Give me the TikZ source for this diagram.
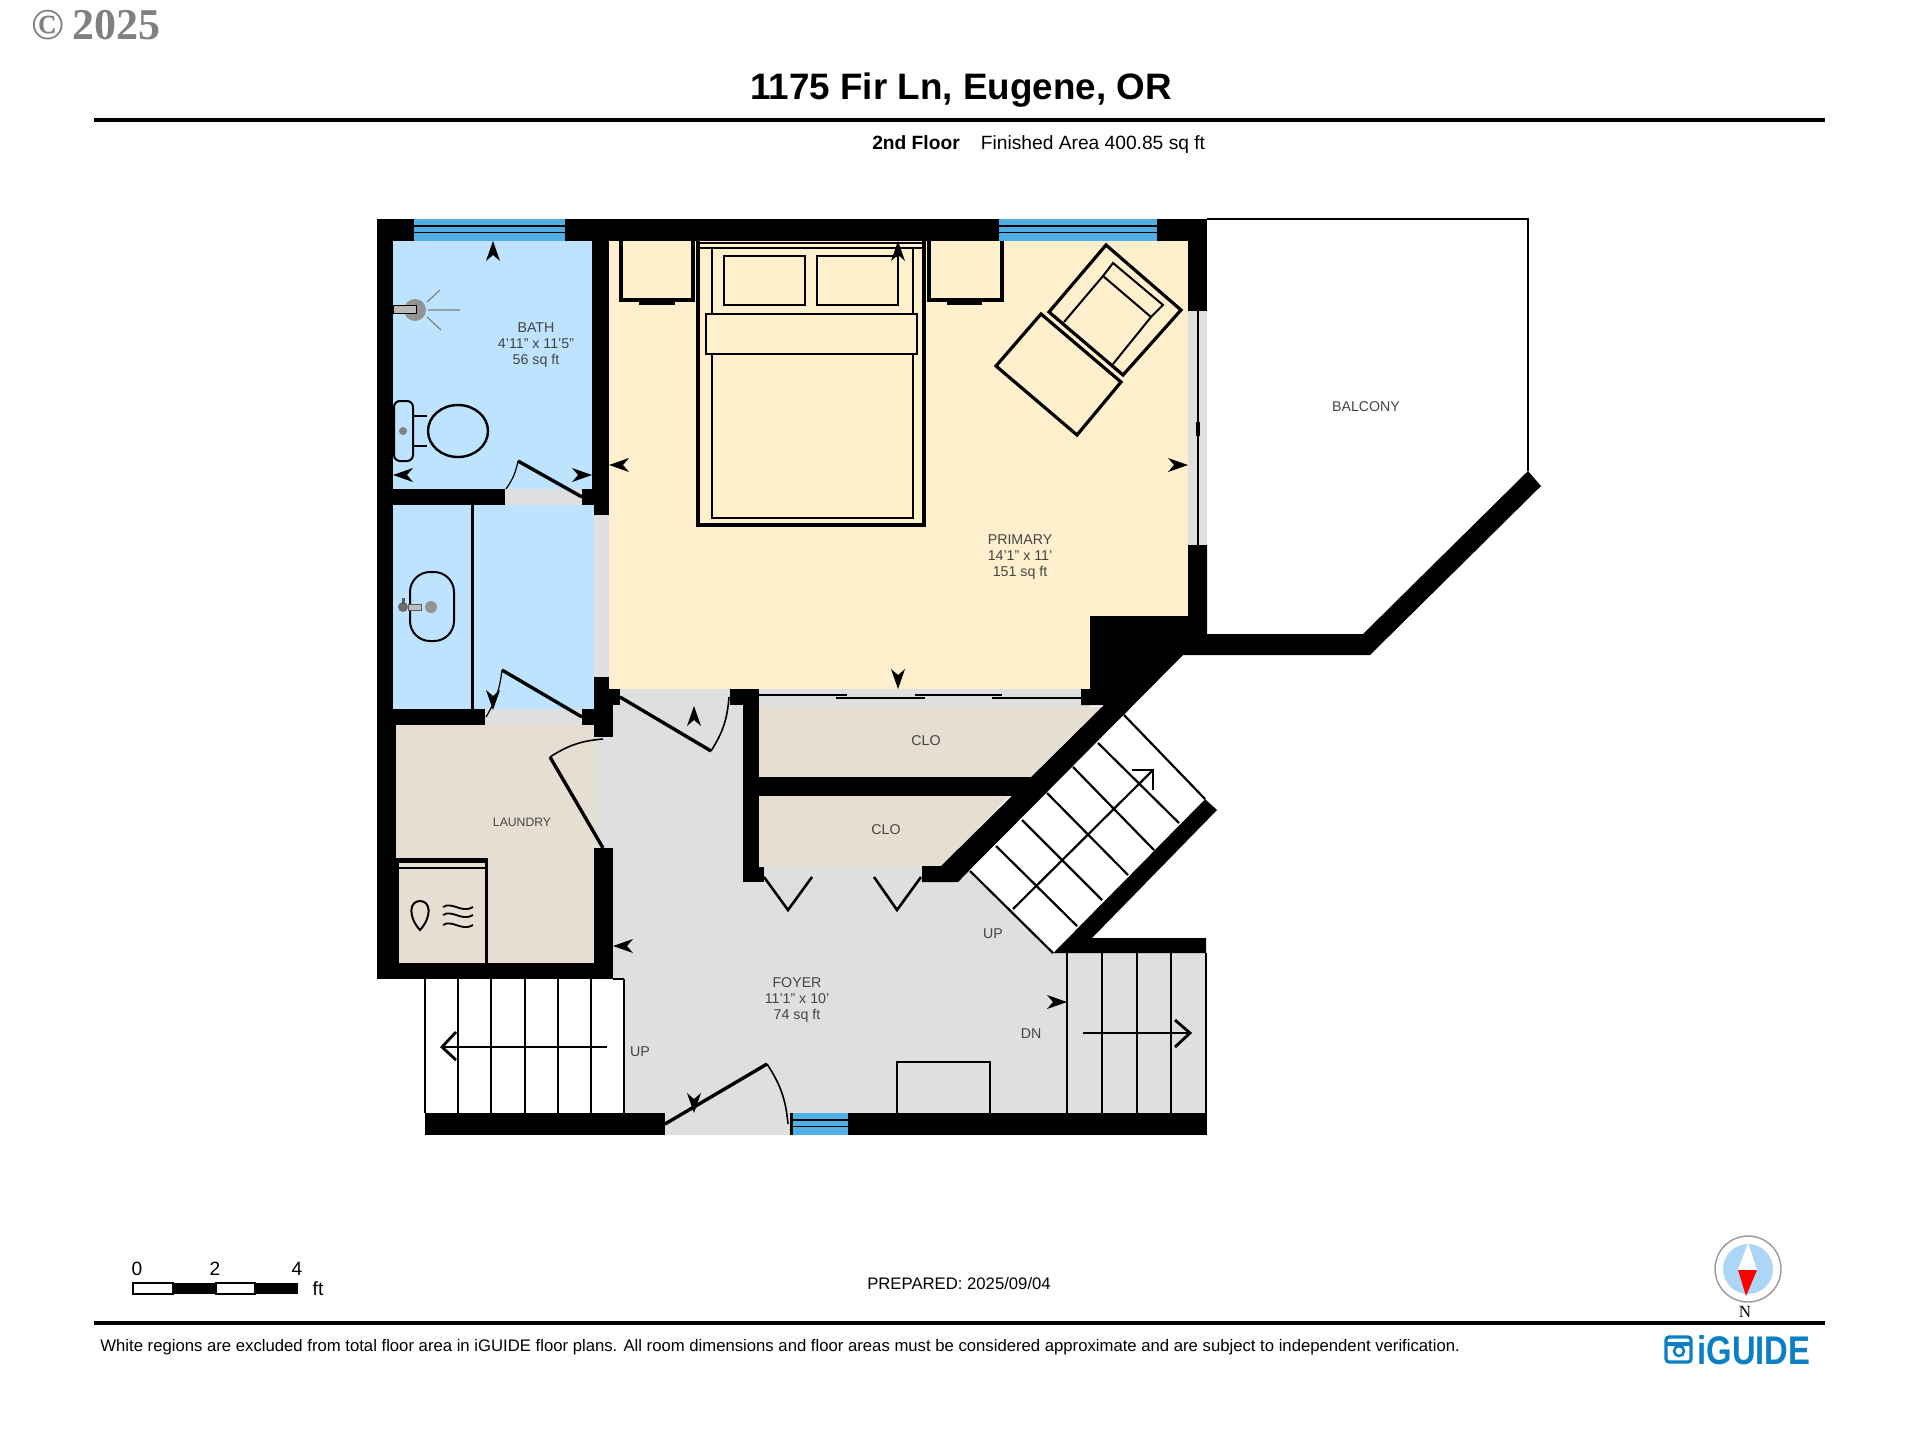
\documentclass[tikz,border=0pt]{standalone}
\usepackage{fontspec}
\setmainfont{Liberation Sans}
\newfontfamily\serifcopy{Liberation Serif}
\usetikzlibrary{calc,positioning}
\definecolor{bathblue}{HTML}{BDE3FF}
\definecolor{primaryyellow}{HTML}{FFF0CD}
\definecolor{closetbeige}{HTML}{E6DFD1}
\definecolor{foyergray}{HTML}{DFDFDF}
\definecolor{glassblue}{HTML}{4FAEE3}
\definecolor{labelgray}{HTML}{444444}
\definecolor{logoblue}{HTML}{0A7FC4}
\definecolor{compassblue}{HTML}{ACD6F5}
\tikzset{
  roomlabel/.style={font=\fontsize{7.1}{7.8}\selectfont,text=labelgray,align=center,inner sep=0pt},
  pagetext/.style={font=\fontsize{8.35}{10}\selectfont,inner sep=0pt},
  furn/.style={draw=black,line width=1.6pt,line join=miter},
  thinfurn/.style={draw=black,line width=1pt},
  tread/.style={draw=black,line width=1.1pt},
  doorleaf/.style={draw=black,line width=1.7pt},
  swing/.style={draw=black,line width=0.6pt},
}
\newcommand{\dart}[3]{\fill[black,shift={(#1,#2)},rotate=#3] (0,0) -- (-20,7) -- (-14,0) -- (-20,-7) -- cycle;}
\newcommand{\glass}[4]{
  \fill[glassblue] (#1,#2) rectangle (#3,#4);
  \draw[black,line width=0.6pt] (#1,{#2+0.32*(#4-#2)}) -- (#3,{#2+0.32*(#4-#2)});
  \draw[black,line width=0.6pt] (#1,{#2+0.62*(#4-#2)}) -- (#3,{#2+0.62*(#4-#2)});
}
\begin{document}
\begin{tikzpicture}[x=0.5pt,y=-0.5pt]
\useasboundingbox (0,0) rectangle (1920,1440);

% rooms
\fill[bathblue] (393,241) rectangle (594,709);
\fill[primaryyellow] (609,240) -- (1188,240) -- (1188,616) -- (1090,616) -- (1090,689) -- (609,689) -- cycle;
\fill[closetbeige] (396,725) rectangle (595,963);
\fill[foyergray] (595,689) -- (743,689) -- (743,882) -- (958,882) -- (969,871) -- (1053,953) -- (1207,953) -- (1207,1135) -- (665,1135) -- (665,1113) -- (624,1113) -- (624,979) -- (595,979) -- cycle;
\fill[closetbeige] (759,707) -- (1102,707) -- (1030,777) -- (759,777) -- cycle;
\fill[closetbeige] (759,796) -- (1010,796) -- (941,866) -- (759,866) -- cycle;
\fill[foyergray] (759,689) rectangle (1090,707);
\fill[foyergray] (759,866) rectangle (922,882);
\fill[foyergray] (505,489) rectangle (582,505);
\fill[foyergray] (485,709) rectangle (582,725);
\fill[foyergray] (594,515) rectangle (609,677);
\fill[foyergray] (1188,311) rectangle (1207,545);

% bed and nightstands
\draw[furn,line width=1.8pt] (698,240) -- (698,525) -- (924,525) -- (924,240);
\draw[thinfurn] (698,243) -- (924,243) (698,248) -- (924,248);
\draw[thinfurn,line width=1.2pt] (712,248) -- (712,518) -- (913,518) -- (913,248);
\draw[thinfurn,line width=1.2pt,fill=primaryyellow] (706,314) rectangle (917,354);
\draw[furn,line width=1.2pt] (724,256) rectangle (805,305);
\draw[furn,line width=1.2pt] (817,256) rectangle (898,305);
\draw[furn] (621,241) -- (621,300) -- (693,300) -- (693,241);
\fill[black] (639,300) rectangle (675,305);
\draw[furn] (929,241) -- (929,300) -- (1002,300) -- (1002,241);
\fill[black] (947,300) rectangle (982,305);

% chair and ottoman
\draw[furn] (1106,245) -- (1181,310) -- (1123,375) -- (1049,312) -- cycle;
\draw[thinfurn] (1103,276) -- (1113,263) -- (1163,305) -- (1151,317);
\draw[thinfurn] (1064,322) -- (1103,276) -- (1151,317) -- (1113,364);
\draw[furn] (1041,314) -- (1121,382) -- (1077,435) -- (996,366) -- cycle;

% shower
\draw[gray,line width=0.6pt] (427,302) -- (440,290) (428,310) -- (460,310) (427,317) -- (441,330);
\fill[gray!85] (415,310) circle (11);
\draw[black,line width=0.5pt,fill=gray!55] (393,305) rectangle (416,313);

% toilet
\draw[thinfurn,fill=bathblue,rounded corners=3pt] (394,401) rectangle (413,461);
\fill[gray] (403,431) circle (4);
\draw[thinfurn] (413,416) -- (427,416) (413,446) -- (427,446);
\draw[furn,line width=1.2pt] (458,431) ellipse (30 and 26);

% vanity and sink
\fill[black] (471,505) rectangle (474,709);
\draw[thinfurn,rounded corners=10pt] (410,572) rectangle (454,641);
\fill[gray!85] (431,607) circle (6);
\fill[gray!85!black] (403,607) circle (5);
\fill[gray!70!black] (402,598) rectangle (405,604);
\draw[gray!70!black,line width=0.5pt,fill=gray!50] (408,604) rectangle (421,610);

% washer and dryer
\fill[black] (396,858) rectangle (487,863);
\draw[black,line width=1pt] (398,868) -- (486,868);
\fill[black] (396,858) rectangle (399,963);
\fill[black] (485,858) rectangle (488,963);
\draw[black,line width=1pt] (420,930) .. controls (408,917) and (409,901) .. (420,901) .. controls (431,901) and (432,917) .. (420,930) -- cycle;
\foreach \wavey in {907,915,925}{
  \draw[black,line width=0.9pt] (443,\wavey) .. controls (452,\wavey-6) and (462,\wavey+7) .. (473,\wavey);
}

% walls
\fill[black] (377,219) rectangle (414,241);
\fill[black] (565,219) rectangle (999,241);
\fill[black] (1157,219) rectangle (1207,241);
\fill[black] (377,219) rectangle (393,725);
\fill[black] (377,725) rectangle (396,979);
\fill[black] (592,241) rectangle (609,489);
\fill[black] (582,489) rectangle (609,505);
\fill[black] (594,505) rectangle (609,515);
\fill[black] (393,489) rectangle (505,505);
\fill[black] (393,709) rectangle (485,725);
\fill[black] (582,709) rectangle (594,725);
\fill[black] (594,677) rectangle (609,689);
\fill[black] (594,689) rectangle (620,705);
\fill[black] (594,705) rectangle (613,737);
\fill[black] (594,848) rectangle (613,979);
\fill[black] (377,963) rectangle (613,979);
\fill[black] (743,689) rectangle (759,882);
\fill[black] (730,689) rectangle (743,705);
\fill[black] (759,867) rectangle (764,882);
\fill[black] (759,777) rectangle (1035,796);
\fill[black] (1188,219) rectangle (1207,311);
\fill[black] (1090,616) -- (1188,616) -- (1188,545) -- (1207,545) -- (1207,634) -- (1363,634) -- (1528,471) -- (1541,486) -- (1370,655) -- (1183,655) -- (958,882) -- (922,882) -- (922,866) -- (941,866) -- (1104,705) -- (1081,705) -- (1081,689) -- (1090,689) -- cycle;
\fill[black] (1205,799) -- (1217,810) -- (1092,938) -- (1206,938) -- (1206,953) -- (1053,953) -- cycle;
\fill[black] (425,1113) rectangle (665,1135);
\fill[black] (848,1113) rectangle (1207,1135);

% balcony outline and slider
\draw[black,line width=1.1pt] (1207,219) -- (1528,219) -- (1528,471);
\draw[black,line width=1pt] (1198,311) -- (1198,545);
\fill[black] (1196,422) rectangle (1200,436);

% windows
\glass{414}{219}{565}{241}
\glass{999}{219}{1157}{241}
\glass{793}{1113}{848}{1135}
\fill[black] (790,1113) rectangle (793,1135);

% closet sliders
\draw[black,line width=0.7pt] (759,695) -- (847,695) (836,698) -- (925,698) (915,695) -- (1002,695) (992,698) -- (1081,698);

% doors
\draw[doorleaf] (582,497) -- (518,461);
\draw[swing] (518,461) to[bend left=12] (506,489);
\draw[doorleaf] (582,717) -- (502,670);
\draw[swing] (502,670) to[bend left=12] (486,717);
\draw[doorleaf] (620,697) -- (711,751);
\draw[swing,line width=0.8pt] (711,751) to[bend right=14] (729,697);
\draw[doorleaf] (603,848) -- (550,757);
\draw[swing,line width=0.8pt] (550,757) to[bend left=14] (603,739);
\draw[doorleaf] (665,1124) -- (767,1064);
\draw[swing,line width=0.8pt] (767,1064) to[bend left=14] (788,1124);
\draw[doorleaf,line width=1.3pt] (764,877) -- (788,910) -- (812,877);
\draw[doorleaf,line width=1.3pt] (874,877) -- (897,910) -- (921,877);

% lower left stairs
\draw[tread] (425,979) -- (425,1113);
\draw[tread] (613,979) -- (624,979);
\foreach \stepx in {458,491,525,558,591,624}{
  \draw[tread] (\stepx,979) -- (\stepx,1113);
}
\draw[black,line width=0.9pt] (607,1047) -- (442,1047);
\draw[black,line width=1.4pt] (456,1032) -- (442,1047) -- (456,1060);

% lower right stairs
\foreach \stepx in {1067,1102,1137,1171,1206}{
  \draw[tread] (\stepx,953) -- (\stepx,1113);
}
\draw[black,line width=0.9pt] (1083,1033) -- (1190,1033);
\draw[black,line width=1.4pt] (1175,1020) -- (1190,1033) -- (1175,1047);

% diagonal stairs
\fill[white] (1124,715) -- (1205,799) -- (1053,953) -- (969,871) -- cycle;
\draw[tread] (1124,715) -- (1205,799);
\draw[tread] (1098,743) -- (1179,823);
\draw[tread] (1073,767) -- (1154,850);
\draw[tread] (1047,793) -- (1128,875);
\draw[tread] (1022,820) -- (1102,900);
\draw[tread] (996,846) -- (1077,926);
\draw[tread] (970,871) -- (1053,953);
\draw[black,line width=1.1pt] (1013,909) -- (1153,770);
\draw[black,line width=1.4pt] (1132,770) -- (1153,770) -- (1153,790);

% chest
\draw[thinfurn,line width=1.1pt] (897,1113) -- (897,1062) -- (990,1062) -- (990,1113);

% view arrows
\dart{493}{241}{90}
\dart{393}{475}{180}
\dart{592}{475}{0}
\dart{609}{465}{180}
\dart{898}{241}{90}
\dart{1188}{465}{0}
\dart{898}{689}{270}
\dart{694}{706}{90}
\dart{493}{710}{270}
\dart{613}{946}{180}
\dart{1067}{1002}{0}
\dart{694}{1113}{270}

% labels
\node[roomlabel] (bathlabel) at (536,345) {BATH\\4'11" x 11'5"\\56 sq ft};
\node[roomlabel] (primarylabel) at (1020,557) {PRIMARY\\14'1" x 11'\\151 sq ft};
\node[roomlabel] (balconylabel) at (1366,407) {BALCONY};
\node[roomlabel] (cloupper) at (926,741) {CLO};
\node[roomlabel] (clolower) at (886,830) {CLO};
\node[roomlabel,font=\fontsize{6.1}{7}\selectfont] (laundrylabel) at (522,822) {LAUNDRY};
\node[roomlabel] (foyerlabel) at (797,1000) {FOYER\\11'1" x 10'\\74 sq ft};
\node[roomlabel] (upleft) at (640,1052) {UP};
\node[roomlabel] (upright) at (993,934) {UP};
\node[roomlabel] (dnlabel) at (1031,1034) {DN};

% header
\node[inner sep=0pt,gray,font=\serifcopy\bfseries\fontsize{22}{24}\selectfont] (copynote) at (96,25) {©\,2025};
\node[inner sep=0pt,font=\bfseries\fontsize{18.4}{20}\selectfont] (titlelabel) at (961,90) {1175 Fir Ln, Eugene, OR};
\draw[black,line width=2pt] (94,120) -- (1825,120);
\node[pagetext,font=\bfseries\fontsize{9.6}{11}\selectfont] (floorlabel) at (916,143) {2nd Floor};
\node[pagetext,font=\fontsize{9.6}{11}\selectfont] (arealabel) at (1093,144.5) {Finished Area 400.85 sq ft};

% scale bar
\draw[black,line width=0.6pt,fill=white] (133,1283) rectangle (173,1294);
\fill[black] (173,1283) rectangle (216,1294);
\draw[black,line width=0.6pt,fill=white] (216,1283) rectangle (255,1294);
\fill[black] (255,1283) rectangle (298,1294);
\node[pagetext,font=\fontsize{9.6}{11}\selectfont] (scalezero) at (137,1269) {0};
\node[pagetext,font=\fontsize{9.6}{11}\selectfont] (scaletwo) at (215,1269) {2};
\node[pagetext,font=\fontsize{9.6}{11}\selectfont] (scalefour) at (297,1269) {4};
\node[pagetext,font=\fontsize{9.6}{11}\selectfont] (scaleunit) at (318,1289) {ft};

% footer
\node[pagetext] (preparedlabel) at (959,1284) {PREPARED: 2025/09/04};
\draw[black,line width=2pt] (94,1323) -- (1825,1323);
\node[pagetext,anchor=west] (disclaimer) at (100,1347) {White regions are excluded from total floor area in iGUIDE floor plans. All room dimensions and floor areas must be considered approximate and are subject to independent verification.};

% compass
\draw[gray!80,line width=0.7pt] (1748,1269) circle (33);
\fill[compassblue] (1748,1269) circle (25);
\fill[white] (1748,1243) -- (1757,1270) -- (1738,1270) -- cycle;
\fill[red] (1738,1270) -- (1757,1270) -- (1746,1296) -- cycle;
\node[inner sep=0pt,font=\serifcopy\fontsize{8.5}{9}\selectfont] (northlabel) at (1745,1312) {N};

% logo
\draw[logoblue,line width=1.6pt,rounded corners=1.5pt] (1666,1337) rectangle (1691,1362);
\draw[logoblue,line width=1.6pt] (1666,1344) -- (1691,1344);
\draw[logoblue,line width=1.3pt] (1679,1351) circle (5);
\node[inner sep=0pt,anchor=west,text=logoblue,font=\bfseries\fontsize{20}{22}\selectfont] (logolabel) at (1697,1350) {\scalebox{0.82}[1]{iGUIDE}};
\end{tikzpicture}
\end{document}
